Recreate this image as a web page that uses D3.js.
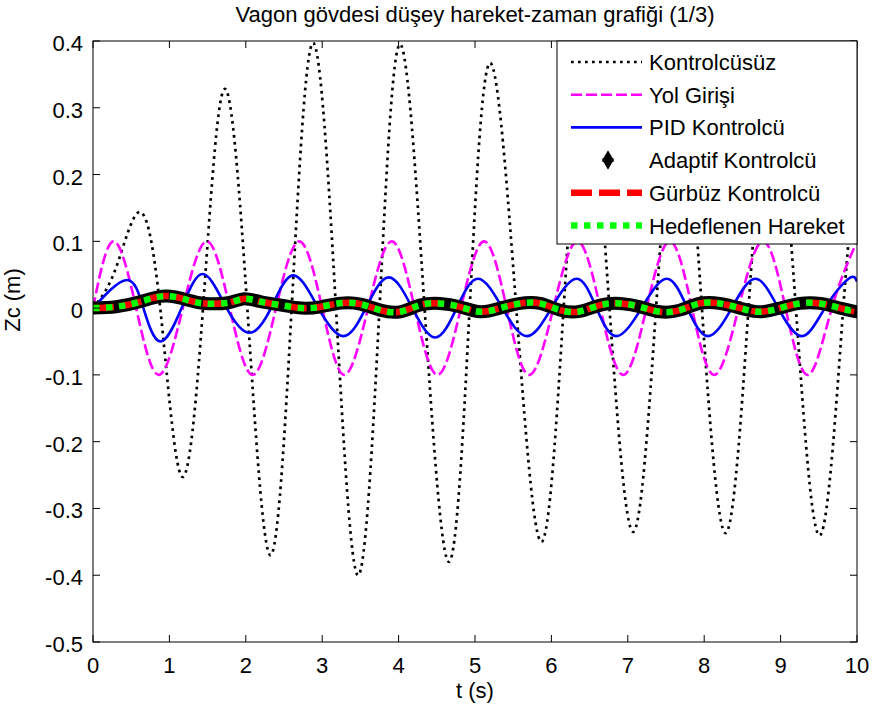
<!DOCTYPE html>
<html>
<head>
<meta charset="utf-8">
<script src="https://cdn.jsdelivr.net/npm/d3@7"></script>
<style>
  html, body { margin: 0; padding: 0; background: #fff; }
  svg { display: block; }
  text { font-family: "Liberation Sans", Arial, sans-serif; fill: #000; }
</style>
</head>
<body>
<div id="canvas"></div>
<script>
"use strict";

/**** CONFIGURATION ****/
let svgWidth = 877;
let svgHeight = 715;

let leftMargin = 93;
let rightMargin = 20;
let topMargin = 41;
let bottomMargin = 73;

let fontSize = 22;

/**** DATA ****/
let xTicks = [0, 1, 2, 3, 4, 5, 6, 7, 8, 9, 10];
let yTicks = [-0.5, -0.4, -0.3, -0.2, -0.1, 0, 0.1, 0.2, 0.3, 0.4];
let yTickLabels = ["-0.5", "-0.4", "-0.3", "-0.2", "-0.1", "0", "0.1", "0.2", "0.3", "0.4"];

let legendLabels = ["Kontrolcüsüz", "Yol Girişi", "PID Kontrolcü", "Adaptif Kontrolcü", "Gürbüz Kontrolcü", "Hedeflenen Hareket"];

// Kontrolcüsüz (uncontrolled) - extremes and zero crossings
let tFree = [0, 0.3, 0.61, 0.88, 1.16, 1.44, 1.72, 2.02, 2.32, 2.6, 2.88, 3.18, 3.47, 3.75, 4.02, 4.34, 4.66, 4.93, 5.2, 5.54, 5.87, 6.16, 6.45, 6.76, 7.07, 7.37, 7.67, 7.97, 8.28, 8.58, 8.88, 9.2, 9.52, 9.82, 10];
let zFree = [0, 0.06, 0.144, 0, -0.252, 0, 0.328, 0, -0.37, 0, 0.397, 0, -0.4, 0, 0.395, 0, -0.38, 0, 0.367, 0, -0.35, 0, 0.35, 0, -0.335, 0, 0.345, 0, -0.337, 0, 0.34, 0, -0.34, 0, 0.22];

// Yol Girişi (road input)
let tRoad = [0, 0.27, 0.565, 0.86, 1.175, 1.49, 1.79, 2.09, 2.395, 2.7, 3.0, 3.29, 3.6, 3.91, 4.21, 4.51, 4.815, 5.12, 5.415, 5.71, 6.025, 6.34, 6.64, 6.94, 7.245, 7.55, 7.84, 8.13, 8.45, 8.77, 9.065, 9.36, 9.67, 10];
let zRoad = [0, 0.1, 0, -0.1, 0, 0.1, 0, -0.1, 0, 0.1, 0, -0.1, 0, 0.1, 0, -0.1, 0, 0.1, 0, -0.1, 0, 0.1, 0, -0.1, 0, 0.1, 0, -0.1, 0, 0.1, 0, -0.1, 0, 0.1];

// PID Kontrolcü
let tPid = [0, 0.44, 0.66, 0.88, 1.16, 1.44, 1.75, 2.05, 2.33, 2.62, 2.95, 3.28, 3.57, 3.87, 4.18, 4.48, 4.76, 5.04, 5.36, 5.68, 6.0, 6.33, 6.59, 6.85, 7.18, 7.51, 7.78, 8.05, 8.36, 8.67, 8.97, 9.28, 9.58, 9.89, 10];
let zPid = [0, 0.042, 0, -0.05, 0, 0.051, 0, -0.037, 0, 0.049, 0, -0.042, 0, 0.046, 0, -0.044, 0, 0.044, 0, -0.042, 0, 0.044, 0, -0.042, 0, 0.044, 0, -0.042, 0, 0.044, 0, -0.042, 0, 0.044, 0.04];

// Hedeflenen Hareket (target); adaptive and robust controllers sit on top of it
let tBand = [0, 0.3, 0.6, 0.94, 1.24, 1.46, 1.77, 1.98, 2.2, 2.46, 2.73, 2.98, 3.25, 3.5, 3.76, 4.02, 4.28, 4.54, 4.8, 5.07, 5.33, 5.59, 5.85, 6.11, 6.37, 6.64, 6.9, 7.16, 7.42, 7.68, 7.94, 8.2, 8.47, 8.73, 8.99, 9.25, 9.52, 9.78, 10];
let zTarget = [0, 0.002, 0.009, 0.018, 0.012, 0.007, 0.008, 0.014, 0.0095, 0.0045, 0, 0.002, 0.0075, 0.006, -0.003, -0.0055, 0.0045, 0.007, 0.002, -0.0055, 0, 0.007, 0.007, -0.003, -0.005, 0.0045, 0.007, 0.002, -0.0055, -0.003, 0.007, 0.007, 0, -0.0055, 0, 0.007, 0.007, 0, -0.0055];
let zAdaptive = zTarget;
let zRobust = zTarget;

/**** SVG ****/
let svg = d3.select("#canvas")
    .append("svg")
    .attr("width", svgWidth)
    .attr("height", svgHeight);

svg.append("rect")
    .attr("width", svgWidth)
    .attr("height", svgHeight)
    .attr("fill", "#fff");

/**** SCALES ****/
let xScale = d3.scaleLinear()
    .domain([0, 10])
    .range([leftMargin, svgWidth - rightMargin]);

let yScale = d3.scaleLinear()
    .domain([-0.5, 0.4])
    .range([svgHeight - bottomMargin, topMargin]);

let x0 = xScale(0), x1 = xScale(10);
let y0 = yScale(-0.5), y1 = yScale(0.4);

/**** CURVES ****/
let plot = svg.append("g");

plot.append("clipPath")
    .attr("id", "clip")
    .append("rect")
    .attr("x", x0)
    .attr("y", y1)
    .attr("width", x1 - x0)
    .attr("height", y0 - y1);

let lineGen = d3.line()
    .x(function(d) { return xScale(d[0]); })
    .y(function(d) { return yScale(d[1]); })
    .curve(d3.curveNatural);

function pairs(ts, zs) {
    return ts.map(function(t, i) { return [t, zs[i]]; });
}

let series = [
    { t: tFree, z: zFree, color: "#000000", width: 2.7, dash: "2.7,4.3", cap: "butt" },
    { t: tRoad, z: zRoad, color: "#ff00ff", width: 2.6, dash: "11,4", cap: "butt" },
    { t: tPid, z: zPid, color: "#0000ff", width: 2.6, dash: null, cap: "butt" },
    { t: tBand, z: zAdaptive, color: "#000000", width: 13, dash: null, cap: "round" },
    { t: tBand, z: zRobust, color: "#ff0000", width: 6.5, dash: "21,7", cap: "butt" },
    { t: tBand, z: zTarget, color: "#00ff00", width: 6.5, dash: "6.5,6.5", cap: "butt" }
];

series.forEach(function(s) {
    plot.append("path")
        .attr("clip-path", "url(#clip)")
        .attr("d", lineGen(pairs(s.t, s.z)))
        .attr("fill", "none")
        .attr("stroke", s.color)
        .attr("stroke-width", s.width)
        .attr("stroke-dasharray", s.dash)
        .attr("stroke-linecap", s.cap)
        .attr("stroke-linejoin", "round");
});

/**** AXES BOX + TICKS (inside, all four sides) ****/
let tickLen = 7;
let axes = svg.append("g").attr("stroke", "#000").attr("stroke-width", 1);

axes.append("rect")
    .attr("x", x0)
    .attr("y", y1)
    .attr("width", x1 - x0)
    .attr("height", y0 - y1)
    .attr("fill", "none");

xTicks.forEach(function(v) {
    axes.append("line").attr("x1", xScale(v)).attr("x2", xScale(v))
        .attr("y1", y0).attr("y2", y0 - tickLen);
    axes.append("line").attr("x1", xScale(v)).attr("x2", xScale(v))
        .attr("y1", y1).attr("y2", y1 + tickLen);
});

yTicks.forEach(function(v) {
    axes.append("line").attr("x1", x0).attr("x2", x0 + tickLen)
        .attr("y1", yScale(v)).attr("y2", yScale(v));
    axes.append("line").attr("x1", x1).attr("x2", x1 - tickLen)
        .attr("y1", yScale(v)).attr("y2", yScale(v));
});

/**** TICK LABELS ****/
xTicks.forEach(function(v) {
    svg.append("text")
        .attr("x", xScale(v))
        .attr("y", y0 + 31)
        .attr("text-anchor", "middle")
        .style("font-size", fontSize + "px")
        .text(`${v}`);
});

yTicks.forEach(function(v, i) {
    svg.append("text")
        .attr("x", x0 - 10)
        .attr("y", yScale(v) + 10)
        .attr("text-anchor", "end")
        .style("font-size", fontSize + "px")
        .text(yTickLabels[i]);
});

/**** TITLES ****/
svg.append("text")
    .attr("x", (x0 + x1) / 2)
    .attr("y", 22)
    .attr("text-anchor", "middle")
    .style("font-size", fontSize + "px")
    .text("Vagon gövdesi düşey hareket-zaman grafiği (1/3)");

svg.append("text")
    .attr("x", (x0 + x1) / 2)
    .attr("y", 698)
    .attr("text-anchor", "middle")
    .style("font-size", fontSize + "px")
    .text("t (s)");

svg.append("text")
    .attr("transform", "rotate(-90)")
    .attr("x", -300)
    .attr("y", 20)
    .attr("text-anchor", "middle")
    .style("font-size", fontSize + "px")
    .text("Zc (m)");

/**** LEGEND ****/
let legX = 557, legY = 41, legW = 300, legH = 203;
let rowY0 = 62, rowStep = 32.7;

svg.append("rect")
    .attr("x", legX)
    .attr("y", legY)
    .attr("width", legW)
    .attr("height", legH)
    .attr("fill", "#fff")
    .attr("stroke", "#000")
    .attr("stroke-width", 1);

for (let i = 0; i < legendLabels.length; i++) {
    let s = series[i];
    let ry = rowY0 + i * rowStep;
    if (i === 3) {
        // marker-only entry
        svg.append("path")
            .attr("transform", `translate(608,${ry})`)
            .attr("d", d3.symbol().type(d3.symbolDiamond).size(110)())
            .attr("fill", "#000");
        svg.append("path")
            .attr("transform", `translate(608,${ry})`)
            .attr("d", d3.symbol().type(d3.symbolCross).size(70)())
            .attr("fill", "#000");
    } else {
        svg.append("line")
            .attr("x1", 571)
            .attr("x2", 642)
            .attr("y1", ry)
            .attr("y2", ry)
            .attr("stroke", s.color)
            .attr("stroke-width", s.width)
            .attr("stroke-dasharray", s.dash)
            .attr("stroke-linecap", "butt");
    }
    svg.append("text")
        .attr("x", 649)
        .attr("y", ry + 8)
        .style("font-size", fontSize + "px")
        .text(legendLabels[i]);
}
</script>
</body>
</html>
